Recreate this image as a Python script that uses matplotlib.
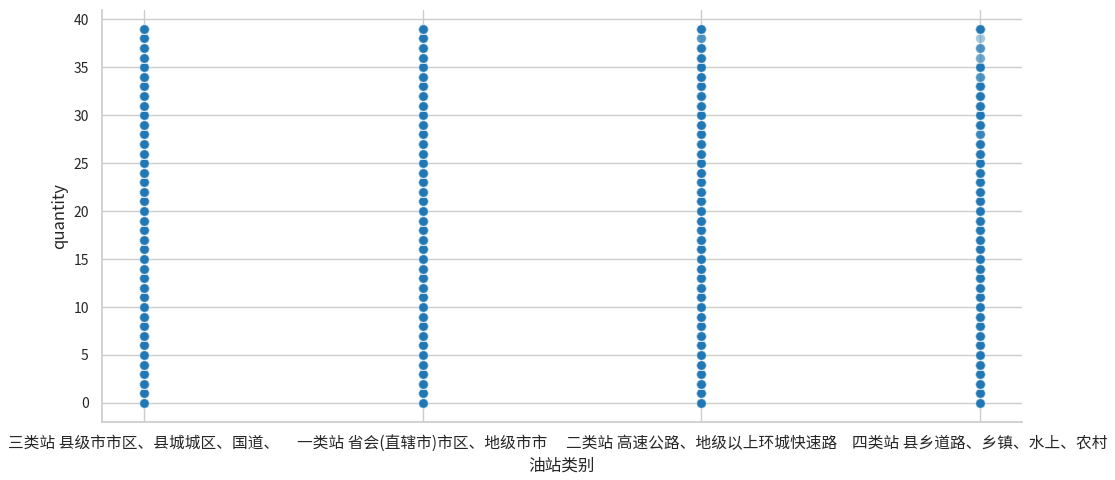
import numpy as np
import pandas as pd
import matplotlib
matplotlib.use("Agg")
import matplotlib.pyplot as plt
import seaborn as sns

categories = ["三类站 县级市市区、县城城区、国道、",
              "一类站 省会(直辖市)市区、地级市市",
              "二类站 高速公路、地级以上环城快速路",
              "四类站 县乡道路、乡镇、水上、农村"]
quantity_values = list(range(0, 40))
# number of records observed at each quantity value, per category
counts_cat1 = [8] * 40
counts_cat2 = [8] * 40
counts_cat3 = [8] * 38 + [3, 8]
counts_cat4 = [8] * 28 + [4, 8, 8, 8, 8, 8, 3, 8, 2, 3, 1, 8]
all_counts = [counts_cat1, counts_cat2, counts_cat3, counts_cat4]

rows = []
for cat, cnts in zip(categories, all_counts):
    for q, c in zip(quantity_values, cnts):
        rows += [(cat, q)] * c
df = pd.DataFrame(rows, columns=["油站类别", "quantity"])

sns.set_theme(style="whitegrid", context="notebook")
plt.rcParams['font.family'] = ['Noto Sans CJK SC', 'DejaVu Sans']
plt.rcParams['axes.unicode_minus'] = False

fig = plt.figure(figsize=(11.15, 4.8), dpi=100)
ax = fig.add_axes([0.0915, 0.1215, 0.825, 0.8575])
sns.scatterplot(data=df, x="油站类别", y="quantity", alpha=0.4, s=48,
                color="#1f77b4", edgecolor="white", linewidth=0.6, ax=ax)
ax.set_yticks(range(0, 41, 5))
sns.despine(ax=ax)
for s in ["left", "bottom"]:
    ax.spines[s].set_color("#cccccc")
ax.tick_params(axis='x', labelsize=11.3)
ax.tick_params(axis='y', labelsize=10)
fig.savefig("out.png", dpi=100)
